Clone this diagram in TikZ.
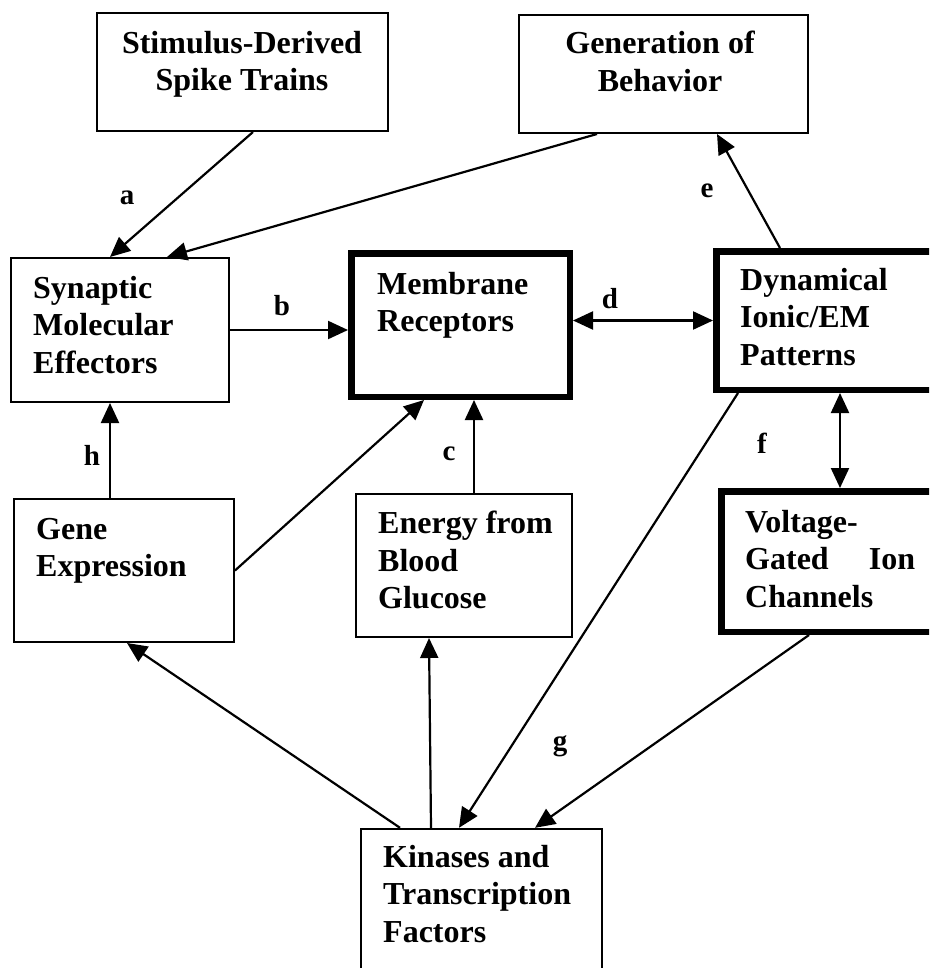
\documentclass[tikz,border=0pt]{standalone}
\usepackage{fontspec}
\setmainfont{Liberation Serif}
\usetikzlibrary{arrows.meta}
\tikzset{
  box/.style={draw, line width=2.4pt, inner sep=0pt},
  thickbox/.style={draw, line width=6.5pt, inner sep=0pt},
  txt/.style={inner sep=0pt, align=left, anchor=north west, font=\fontsize{32}{37.5}\selectfont\bfseries},
  ctxt/.style={inner sep=0pt, align=center, anchor=north, font=\fontsize{32}{37.5}\selectfont\bfseries},
  lab/.style={inner sep=0pt, anchor=base, font=\fontsize{29}{30}\selectfont\bfseries},
  arr/.style={line width=2.2pt, -{Triangle[length=20pt,width=18pt]}},
  darr/.style={line width=2.2pt, {Triangle[length=20pt,width=18pt]}-{Triangle[length=20pt,width=18pt]}}
}
\begin{document}
\begin{tikzpicture}[x=1pt,y=-1pt]
\useasboundingbox (0,0) rectangle (929,968);
\clip (0,0) rectangle (929,968);
\fill[white] (0,0) rectangle (929,968);
% boxes
\node[box, minimum width=290.6pt, minimum height=117.6pt] (stim) at (242.5,72) {};
\node[box, minimum width=288.6pt, minimum height=117.6pt] (gen) at (663.5,74) {};
\node[box, minimum width=217.6pt, minimum height=143.6pt] (syn) at (120,330) {};
\node[thickbox, minimum width=218.5pt, minimum height=143.5pt] (mem) at (460.5,325) {};
\node[thickbox, minimum width=220.5pt, minimum height=138.5pt] (dyn) at (826.5,320.5) {};
\node[box, minimum width=219.6pt, minimum height=142.6pt] (gene) at (124,570.5) {};
\node[box, minimum width=215.6pt, minimum height=142.6pt] (energy) at (464,565.5) {};
\node[thickbox, minimum width=215.5pt, minimum height=140.5pt] (volt) at (829,561.5) {};
\node[box, minimum width=240.6pt, minimum height=170pt] (kin) at (481.5,914) {};
% texts
\node[ctxt] (stimt) at (242,31) {Stimulus-Derived\\Spike Trains};
\node[ctxt] (gent) at (660,31) {Generation of\\Behavior};
\node[txt] (synt) at (33,276) {Synaptic\\Molecular\\Effectors};
\node[txt] (memt) at (377,272) {Membrane\\Receptors};
\node[txt] (dynt) at (740,268) {Dynamical\\Ionic/EM\\Patterns};
\node[txt] (genet) at (36,518) {Gene\\Expression};
\node[txt] (energyt) at (378,511) {Energy from\\Blood\\Glucose};
\node[txt] (voltt) at (745,510) {Voltage-\\\makebox[170pt][l]{Gated\hfill Ion}\\Channels};
\node[txt] (kint) at (383,845) {Kinases and\\Transcription\\Factors};
% helper coordinates
\coordinate (fA) at ([xshift=127pt]dyn.south west);
\coordinate (cA) at ([xshift=119pt]energy.north west);
\coordinate (hA) at ([xshift=97pt]gene.north west);
% connectors
\draw[arr] ([xshift=157pt]stim.south west) -- ([xshift=100pt]syn.north west);
\draw[arr] ([xshift=79pt]gen.south west) -- ([xshift=157pt]syn.north west);
\draw[arr] (syn.east) -- (syn.east -| mem.west);
\draw[darr] (dyn.west -| mem.east) -- (dyn.west);
\draw[arr] ([xshift=67pt]dyn.north west) -- ([xshift=199pt]gen.south west);
\draw[darr] (fA) -- (fA |- volt.north);
\draw[arr] (cA) -- (cA |- mem.south);
\draw[arr] (hA) -- (hA |- syn.south);
\draw[arr] (gene.east) -- ([xshift=76pt]mem.south west);
\draw[arr] ([xshift=40pt]kin.north west) -- ([xshift=114pt]gene.south west);
\draw[arr] ([xshift=71pt]kin.north west) -- ([xshift=74pt]energy.south west);
\draw[arr] ([xshift=25pt]dyn.south west) -- ([xshift=99pt]kin.north west);
\draw[arr] ([xshift=91pt]volt.south west) -- ([xshift=175pt]kin.north west);
% labels
\node[lab] (la) at (127,205) {a};
\node[lab] (lb) at (282,315) {b};
\node[lab] (lc) at (449,460) {c};
\node[lab] (ld) at (610,308) {d};
\node[lab] (le) at (707,198) {e};
\node[lab] (lf) at (762,453) {f};
\node[lab] (lg) at (560,750) {g};
\node[lab] (lh) at (92,465) {h};
\end{tikzpicture}
\end{document}
